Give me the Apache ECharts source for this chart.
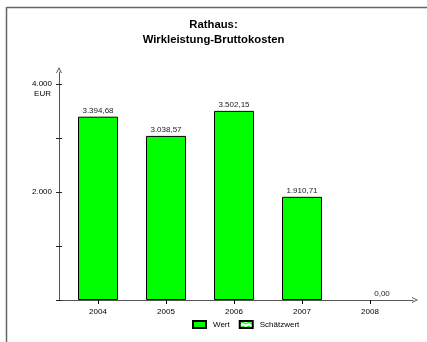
<!DOCTYPE html>
<html><head><meta charset="utf-8">
<script src="https://cdn.jsdelivr.net/npm/echarts@6/dist/echarts.min.js"></script>
<style>html,body{margin:0;padding:0;background:#fff}#c{width:427px;height:342px}</style>
</head><body><div id="c"></div>
<script>
const titleLines = ['Rathaus:', 'Wirkleistung-Bruttokosten'];
const categories = ['2004', '2005', '2006', '2007', '2008'];
const wertValues = [3394.68, 3038.57, 3502.15, 1910.71, 0];
const schaetzValues = [null, null, null, null, null];
const seriesNames = ['Wert', 'Schätzwert'];
const yUnit = 'EUR';
const yLabeled = [2000, 4000];

function fmt(v, d) {
  const s = v.toFixed(d);
  let [i, f] = s.split('.');
  i = i.replace(/\B(?=(\d{3})+(?!\d))/g, '.');
  return f ? i + ',' + f : i;
}

const pc = document.createElement('canvas');
pc.width = 6; pc.height = 4;
const g = pc.getContext('2d');
g.fillStyle = '#fff'; g.fillRect(0, 0, 6, 4);
g.strokeStyle = '#00ff00'; g.lineWidth = 1.2;
g.beginPath(); g.moveTo(0, 3); g.lineTo(3, 1); g.lineTo(6, 3); g.stroke();

const arrowPath = 'path://M5,0 L10,10 L8.4,10 L5,3.2 L1.6,10 L0,10 Z';
const font = 'Liberation Sans, Arial, sans-serif';
const axisColor = '#555';

const chart = echarts.init(document.getElementById('c'), null, {renderer: 'canvas'});
chart.setOption({
  animation: false,
  backgroundColor: '#fff',
  title: {
    text: titleLines.join('\n'), left: 'center', top: 13,
    textStyle: {fontFamily: font, fontSize: 11.3, fontWeight: 'bold', color: '#000', lineHeight: 14.5}
  },
  legend: {
    left: 187, top: 315, itemWidth: 13, itemHeight: 7, itemGap: 9,
    icon: 'rect',
    textStyle: {fontFamily: font, fontSize: 8, color: '#000', padding: [0, 0, 0, 2]},
    data: seriesNames
  },
  graphic: [
    {type: 'line', shape: {x1: 7, y1: 7.5, x2: 427, y2: 7.5}, style: {stroke: '#666', lineWidth: 1.5}},
    {type: 'line', shape: {x1: 6.5, y1: 7, x2: 6.5, y2: 342}, style: {stroke: '#666', lineWidth: 1.5}}
  ],
  grid: [
    {left: 64, right: 23, top: 84, bottom: 42},
    {left: 59, right: 14, top: 72, bottom: 42}
  ],
  xAxis: [
    {
      type: 'category', gridIndex: 0, data: categories,
      axisLine: {show: false},
      axisTick: {show: true, alignWithLabel: true, length: 4, lineStyle: {color: '#000'}},
      axisLabel: {fontFamily: font, fontSize: 8, color: '#000', margin: 8}
    },
    {
      type: 'value', gridIndex: 1, min: 0, max: 1,
      axisLine: {show: true, symbol: ['none', arrowPath], symbolSize: [7, 6], symbolOffset: [0, 2], lineStyle: {color: axisColor, width: 1}},
      axisTick: {show: false}, axisLabel: {show: false}, splitLine: {show: false}
    }
  ],
  yAxis: [
    {
      type: 'value', gridIndex: 0, position: 'left', min: 0, max: 4000, interval: 1000, offset: 5,
      name: yUnit, nameLocation: 'end', nameGap: -14,
      nameTextStyle: {fontFamily: font, fontSize: 8, color: '#000', align: 'right', padding: [0, 8, 0, 0]},
      axisLine: {show: false},
      axisTick: {show: true, length: 3, lineStyle: {color: '#222'}},
      axisLabel: {
        fontFamily: font, fontSize: 8, color: '#000', margin: 7,
        formatter: v => yLabeled.includes(v) ? fmt(v, 0) : ''
      },
      splitLine: {show: false}
    },
    {
      type: 'value', gridIndex: 1, position: 'left', min: 0, max: 1,
      axisLine: {show: true, symbol: ['none', arrowPath], symbolSize: [7, 6], symbolOffset: [0, 2], lineStyle: {color: axisColor, width: 1}},
      axisTick: {show: false}, axisLabel: {show: false}, splitLine: {show: false}
    },
    {
      type: 'value', gridIndex: 0, position: 'left', min: 0, max: 4000, interval: 1000, offset: 5,
      axisLine: {show: false},
      axisTick: {show: true, inside: true, length: 3, lineStyle: {color: '#222'}},
      axisLabel: {show: false}, splitLine: {show: false}
    }
  ],
  series: [
    {
      name: seriesNames[0], type: 'bar', xAxisIndex: 0, yAxisIndex: 0,
      barWidth: 40, barGap: '-100%',
      itemStyle: {color: '#00ff00', borderColor: '#000', borderWidth: 1},
      label: {
        show: true, position: 'top', distance: 2,
        fontFamily: font, fontSize: 8, color: '#222',
        formatter: p => fmt(p.value, 2)
      },
      data: wertValues.map(v => v === 0 ? {value: v, label: {offset: [12, 0]}, itemStyle: {borderWidth: 0}} : v)
    },
    {
      name: seriesNames[1], type: 'bar', xAxisIndex: 0, yAxisIndex: 0,
      barWidth: 40,
      itemStyle: {color: {image: pc, repeat: 'repeat'}, borderColor: '#000', borderWidth: 1},
      data: schaetzValues
    }
  ]
});
</script></body></html>
